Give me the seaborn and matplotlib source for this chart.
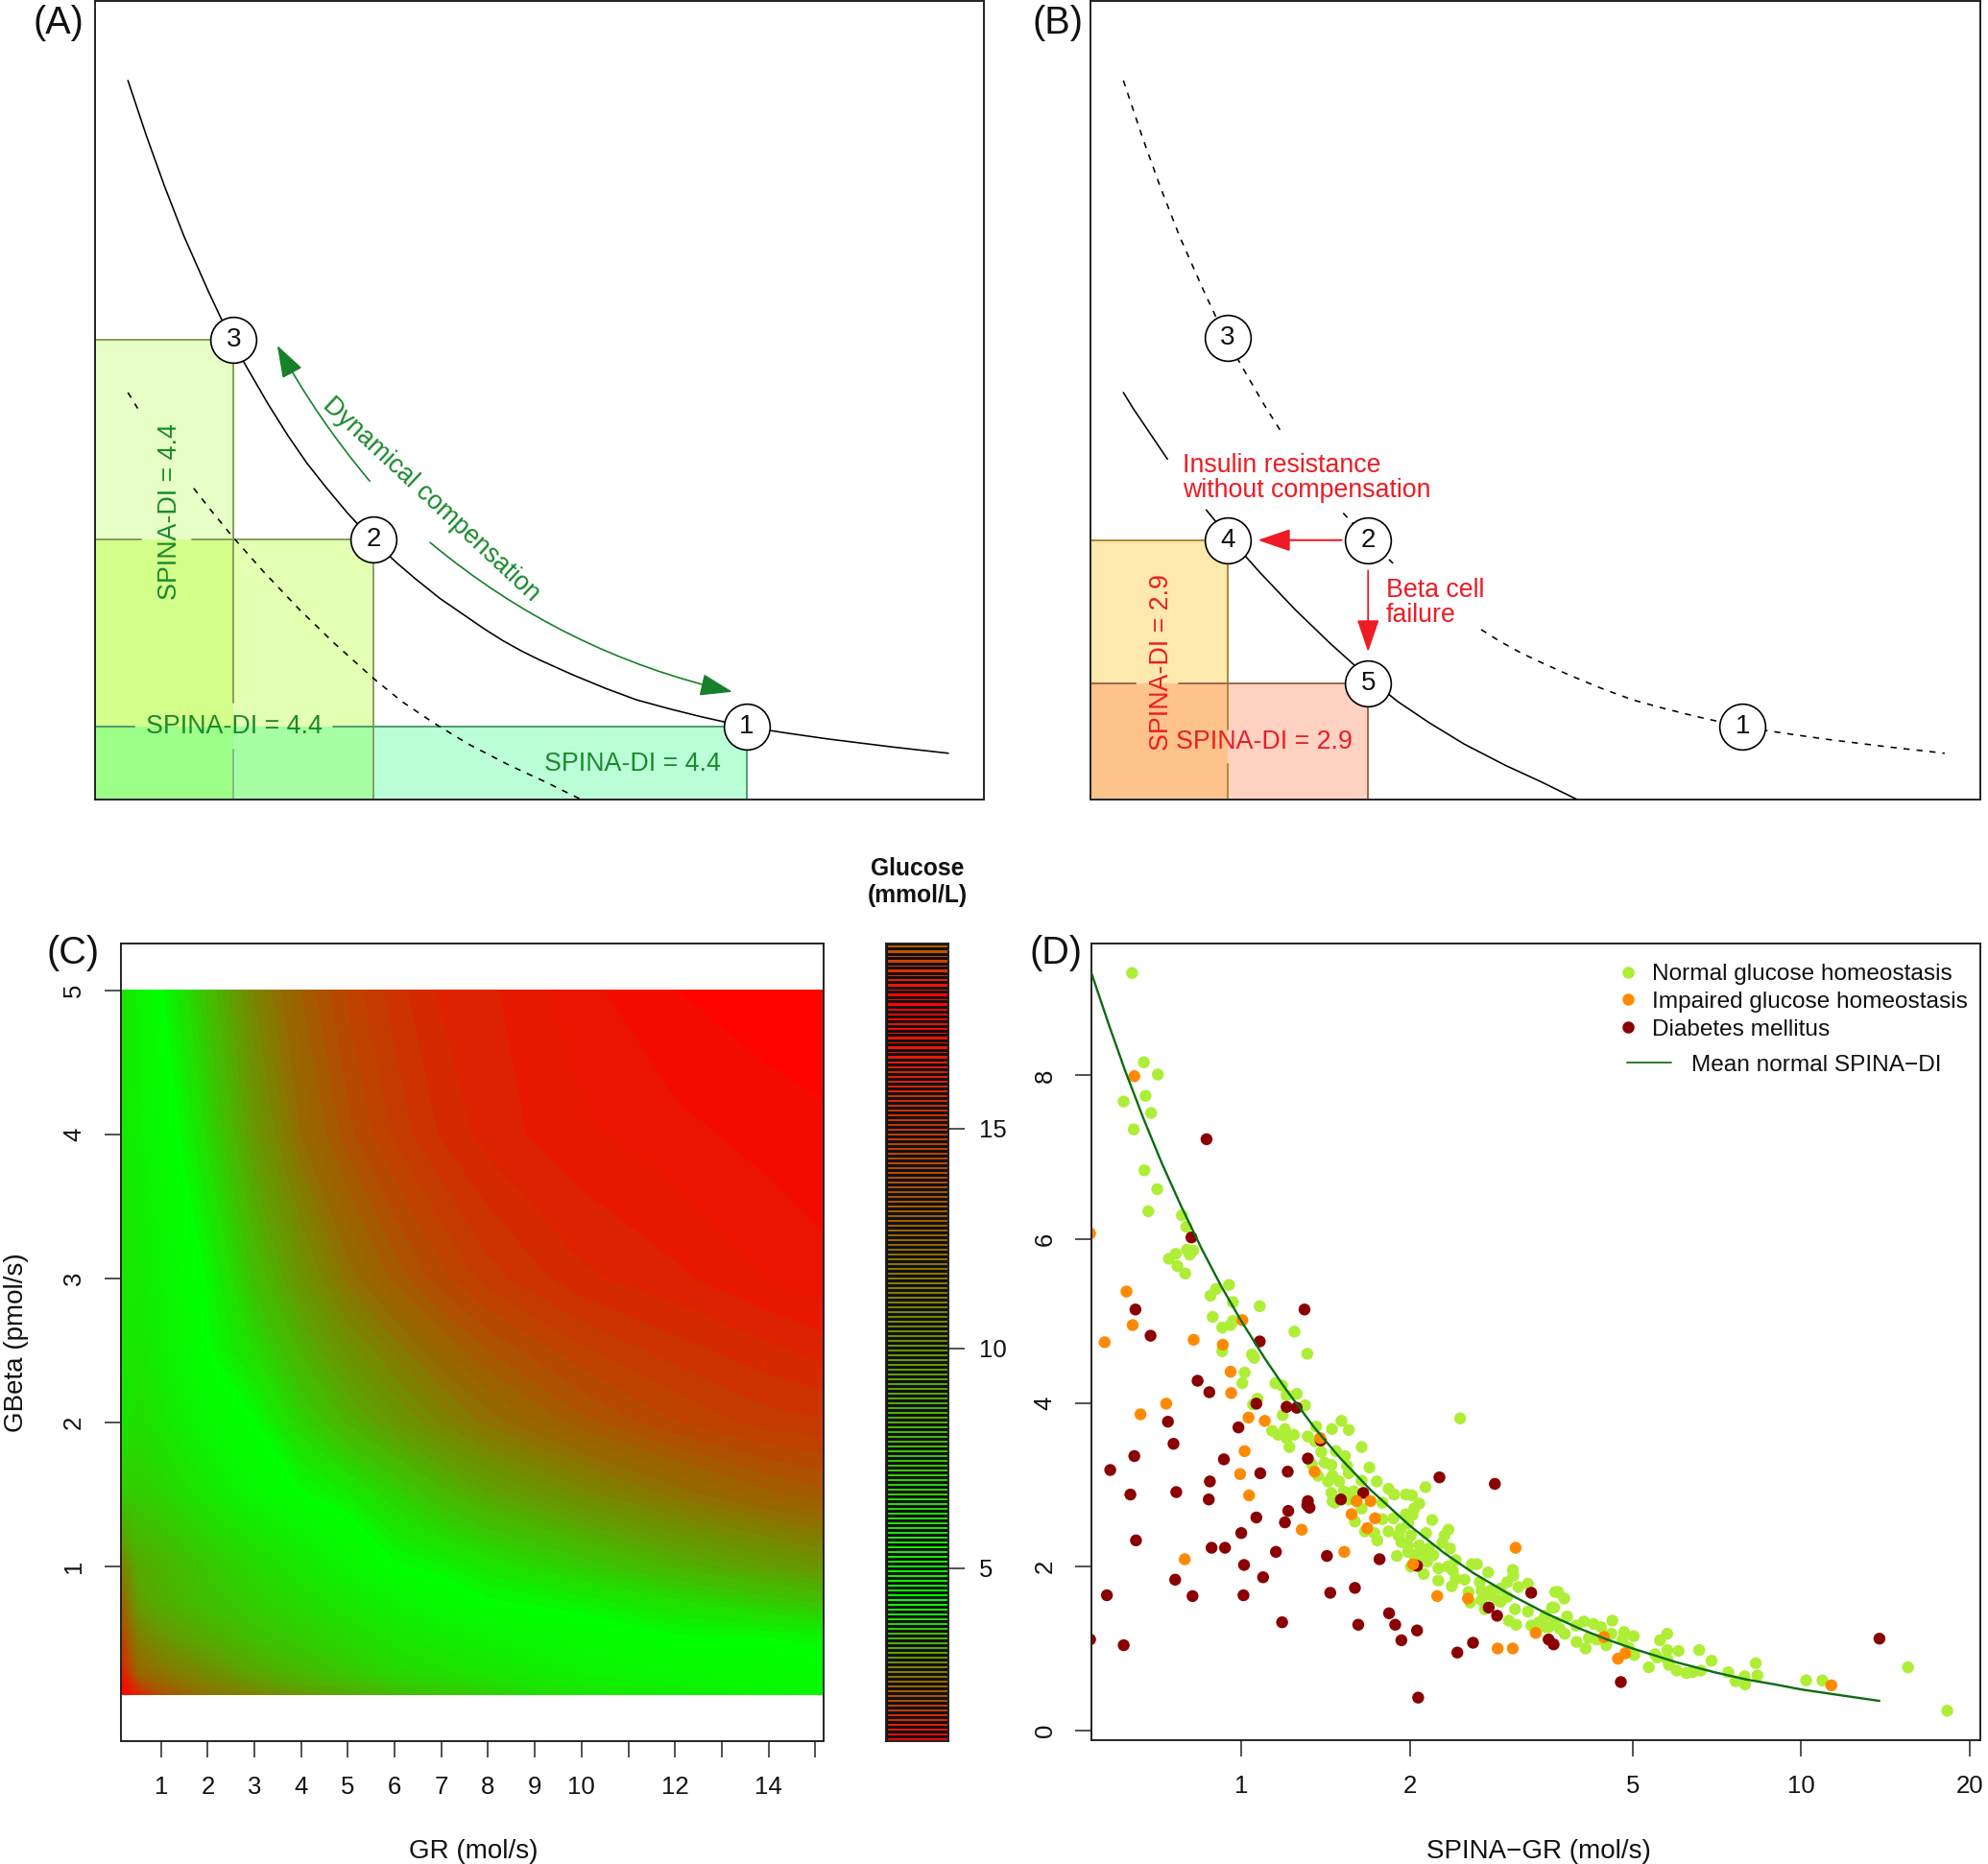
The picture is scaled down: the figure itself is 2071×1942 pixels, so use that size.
import numpy as np
import pandas as pd
import matplotlib
matplotlib.use("Agg")
import matplotlib.pyplot as plt
import seaborn as sns
from matplotlib.colors import LinearSegmentedColormap, Normalize
from matplotlib.lines import Line2D
from matplotlib.patches import Rectangle
from matplotlib.ticker import NullLocator

W, H = 2071, 1942

# ---------- Panels A / B: schematic curves (arbitrary units, axes 0-10) ----------
normal_x = [.37,.58,.78,1.0,1.27,1.43,1.56,1.70,1.95,2.17,2.38,2.6,2.84,3.13,3.40,3.6,3.88,4.39,4.59,4.8,5.0,5.38,5.75,6.09,6.45,6.81,7.33,7.8,8.24,8.96,9.6]
normal_y = [9.01,8.31,7.69,7.06,6.38,6.0,5.71,5.43,4.95,4.56,4.22,3.91,3.59,3.24,2.96,2.77,2.52,2.13,1.99,1.86,1.75,1.56,1.39,1.25,1.14,1.04,.91,.83,.76,.66,.58]
resist_x = [.37,.48,.865,1.11,1.30,1.55,1.9,2.30,2.7,3.13,3.45,3.81,4.2,4.66,5.05,5.47]
resist_y = [5.10,4.90,4.265,3.90,3.63,3.29,2.85,2.38,1.95,1.52,1.23,.96,.695,.43,.23,0.]
state_a_labels = ["1", "2", "3"]
state_a_x = [7.33, 3.13, 1.56]
state_a_y = [.91, 3.26, 5.76]
state_b_labels = ["1", "2", "3", "4", "5"]
state_b_x = [7.33, 3.12, 1.54, 1.54, 3.12]
state_b_y = [.91, 3.25, 5.78, 3.25, 1.46]

grid_gr = [.133,.5,1,1.5,2,3,4,5,6,7,8,10,12,14,15.18]
grid_gbeta = [.11,.25,.5,.75,1,1.5,2,2.5,3,4,5]
glucose_y011 = [18.0,15.95,13.62,12.52,11.84,10.88,9.78,8.82,8.0,7.31,6.77,5.67,5.26,4.85,4.71]
glucose_y025 = [16.9,12.5,11.8,11.15,10.47,9.1,8.14,7.3,6.49,6.08,5.67,4.99,4.71,4.57,4.44]
glucose_y050 = [14.58,11.15,10.05,9.37,8.82,7.73,7.04,6.36,5.67,5.26,4.99,4.57,4.3,4.27,4.2]
glucose_y075 = [12.8,9.5,8.68,8.14,7.73,6.9,6.22,5.53,4.99,4.57,4.3,4.14,3.91,3.66,3.53]
glucose_y100 = [11.15,8.82,8.41,7.86,7.31,6.36,5.53,4.85,4.3,4.17,3.98,3.66,3.33,3.08,2.95]
glucose_y150 = [7.04,7.04,6.63,6.08,5.53,4.71,4.3,4.07,3.75,3.43,3.17,2.82,2.53,2.30,2.21]
glucose_y200 = [5.67,6.08,5.67,5.12,4.71,4.3,3.75,3.33,3.01,2.75,2.53,2.21,1.98,1.82,1.79]
glucose_y250 = [5.4,5.67,5.12,4.71,4.3,3.85,3.33,2.92,2.63,2.37,2.17,1.89,1.72,1.60,1.53]
glucose_y300 = [5.4,5.4,4.99,4.5,4.24,3.5,2.95,2.53,2.24,2.01,1.82,1.6,1.50,1.37,1.31]
glucose_y400 = [5.4,5.12,4.57,4.2,3.82,3.01,2.46,2.11,1.85,1.66,1.53,1.40,1.31,1.24,1.21]
glucose_y500 = [5.67,4.99,4.3,3.91,3.5,2.75,2.27,1.95,1.72,1.56,1.50,1.31,1.18,1.11,1.08]
gr_ticks = list(range(1, 16))
gr_ticklabels = ["1","2","3","4","5","6","7","8","9","10","","12","","14",""]

# ---------- Panel D: patients, (log10 SPINA-GR, SPINA-GBeta) ----------
normal_points = [
(-.195,9.25),(-.174,8.16),(-.149,8.01),(-.210,7.68),(-.171,7.75),(-.161,7.54),(-.192,7.34),(-.173,6.84),(-.150,6.61),(-.166,6.34),
(-.106,6.29),(-.098,6.15),(-.097,5.87),(-.086,5.86),(-.092,5.81),(-.117,5.82),(-.129,5.76),(-.114,5.67),(-.100,5.58),(-.022,5.44),
(-.045,5.39),(-.055,5.31),(-.015,5.23),(.033,5.18),(-.051,5.05),(-.015,5.00),(-.019,4.95),(-.034,4.92),(.095,4.87),(-.034,4.63),
(.118,4.60),(.019,4.59),(.023,4.55),(.006,4.37),(.002,4.24),(.061,4.24),(.073,4.21),(.099,4.11),(.081,4.09),(.114,3.97),
(.029,4.05),(.021,3.98),(.074,3.85),(.055,3.66),(.078,3.68),(.066,3.61),(.094,3.61),(.081,3.57),(.086,3.46),(.134,3.71),
(.162,3.68),(.179,3.78),(.192,3.67),(.119,3.59),(.132,3.53),(.215,3.46),(.169,3.41),(.143,3.40),(.185,3.35),(.149,3.27),
(.161,3.24),(.189,3.23),(.229,3.21),(.126,3.25),(.192,3.14),(.137,3.11),(.163,3.11),(.155,3.04),(.175,3.04),(.242,3.04),
(.215,3.05),(.263,2.95),(.273,2.88),(.161,2.90),(.183,2.92),(.201,2.92),(.294,2.88),(.305,2.87),(.329,2.97),(.318,2.77),
(.163,2.80),(.167,2.78),(.192,2.82),(.215,2.71),(.252,2.78),(.309,2.71),(.294,2.64),(.306,2.63),(.272,2.59),(.252,2.58),
(.203,2.55),(.341,2.57),(.298,2.53),(.285,2.46),(.330,2.41),(.370,2.45),(.221,2.43),(.238,2.41),(.263,2.43),(.363,2.38),
(.359,2.29),(.373,2.22),(.243,2.32),(.281,2.38),(.303,2.38),(.286,2.30),(.298,2.26),(.318,2.26),(.335,2.22),(.343,2.14),
(.383,2.08),(.412,2.03),(.421,2.03),(.441,1.93),(.278,2.13),(.298,2.18),(.309,2.14),(.326,2.18),(.315,2.06),(.332,2.06),
(.369,2.00),(.352,1.98),(.378,1.95),(.303,2.00),(.326,1.91),(.352,1.83),(.383,1.85),(.399,1.84),(.376,1.76),(.426,1.81),
(.406,1.69),(.429,1.71),(.485,1.96),(.486,1.89),(.475,1.81),(.512,1.79),(.463,1.73),(.495,1.75),(.446,1.65),(.475,1.63),
(.429,1.59),(.409,1.56),(.435,1.48),(.463,1.57),(.489,1.48),(.512,1.45),(.478,1.34),(.491,1.29),(.532,1.32),(.518,1.28),
(.543,1.26),(.555,1.50),(.561,1.69),(.543,1.40),(.561,1.32),(.446,1.71),(.458,1.59),(.391,3.81),(.566,1.69),(.577,1.61),
(.559,1.50),(.582,1.39),(.538,1.34),(.549,1.26),(.560,1.32),(.578,1.18),(.569,1.24),(.598,1.28),(.612,1.33),(.629,1.30),
(.643,1.26),(.663,1.34),(.621,1.13),(.599,1.08),(.615,1.00),(.635,1.11),(.652,1.04),(.661,1.18),(.684,1.20),(.701,1.15),
(.681,1.11),(.692,1.01),(.702,.92),(.728,.77),(.739,.93),(.748,1.10),(.761,1.18),(.761,.98),(.781,.97),(.743,.89),
(.761,.87),(.764,.80),(.778,.73),(.795,.70),(.806,.71),(.821,.73),(.818,.98),(.840,.85),(.870,.71),(.883,.60),
(.899,.66),(.900,.56),(.919,.82),(.922,.67),(1.009,.61),(1.038,.61),(1.191,.77),(1.261,.24),
]
impaired_points = [
(-.191,7.99),(-.270,6.07),(-.205,5.36),(-.194,4.95),(-.244,4.74),(-.085,4.77),(.002,5.01),(-.033,4.71),(-.134,3.99),(-.180,3.86),
(.013,3.82),(.042,3.78),(-.019,4.38),(-.018,4.12),(.006,3.41),(-.002,3.13),(.014,2.87),(.141,3.57),(.131,3.16),(.206,2.80),
(.231,2.80),(.197,2.64),(.239,2.59),(.225,2.47),(.108,2.45),(-.101,2.09),(.184,2.18),(.307,2.03),(.350,1.64),(.405,1.61),
(.490,2.23),(.458,1.00),(.485,1.00),(.526,1.19),(.648,1.14),(.686,.94),(.673,.875),(1.054,.55),
]
diabetes_points = [
(-.062,7.22),(-.089,6.02),(-.189,5.14),(-.162,4.82),(.113,5.14),(.033,4.75),(-.078,4.27),(-.057,4.13),(.027,3.99),(.081,3.95),
(.099,3.94),(-.131,3.77),(-.005,3.70),(-.121,3.50),(-.191,3.35),(-.234,3.18),(-.031,3.31),(.119,3.32),(.142,3.54),(-.056,3.04),
(.034,3.14),(.083,3.16),(-.198,2.88),(-.116,2.91),(-.058,2.82),(.218,2.90),(.178,2.82),(.119,2.80),(.118,2.75),(.122,2.72),
(.084,2.68),(.027,2.60),(.078,2.54),(-.188,2.32),(.000,2.41),(-.053,2.23),(-.029,2.23),(.062,2.18),(.153,2.13),(.247,2.09),
(.005,2.02),(.039,1.87),(-.118,1.84),(-.240,1.65),(-.087,1.64),(.004,1.65),(.159,1.68),(.203,1.74),(.264,1.43),(.275,1.29),
(.209,1.29),(.073,1.32),(.286,1.10),(.314,1.22),(.386,.95),(.414,1.07),(-.270,1.11),(-.210,1.04),(.316,.40),(.354,3.09),
(.453,3.01),(.314,2.01),(.518,1.68),(.442,1.50),(.457,1.40),(.549,1.11),(.558,1.05),(.678,.59),(1.140,1.12),
]
mean_di_x = [.54,.58,.62,.67,.72,.78,.85,.92,1,1.1,1.2,1.35,1.5,1.7,2,2.3,2.6,3,3.5,4,4.5,5,6,7,8,9,10,12,13.8]
mean_di_y = [9.25,8.62,8.06,7.46,6.94,6.41,5.88,5.43,5.0,4.55,4.17,3.70,3.33,2.94,2.5,2.17,1.92,1.67,1.43,1.25,1.11,1.0,.83,.71,.62,.56,.5,.42,.36]
spina_gr_ticks = [1, 2, 5, 10, 20]
spina_gbeta_ticks = [0, 2, 4, 6, 8]
legend_names = ["Normal glucose homeostasis", "Impaired glucose homeostasis", "Diabetes mellitus"]
legend_line_name = "Mean normal SPINA\u2212DI"

# ---------- Style ----------
sns.set_theme(style="ticks")
plt.rcParams["font.family"] = ["Liberation Sans", "DejaVu Sans"]
plt.rcParams["axes.linewidth"] = 1.4
plt.rcParams["axes.edgecolor"] = "#222222"
TICK = dict(length=12.2, width=1.1, labelsize=18.5, pad=14, color="#222222", labelcolor="#111111")
FS = 20
ANN = 19.3
GREEN_T = "#1a8a2c"
GREEN_A = "#17802a"
RED = "#ed1c24"
C_GREEN = "#aeee36"
C_ORANGE = "#ff8a00"
C_RED = "#8b0000"

fig = plt.figure(figsize=(W / 100, H / 100), dpi=100, facecolor="white")


def add_ax(l, r, t, b):
    return fig.add_axes([l / W, 1 - b / H, (r - l) / W, (b - t) / H])


def place_x(ax, text, px, py, box):
    l, r, t, b = box
    ax.set_xlabel(text, fontsize=FS, va="center", ha="center", color="#111111")
    ax.xaxis.set_label_coords((px - l) / (r - l), (b - py) / (b - t))


def place_y(ax, text, px, py, box):
    l, r, t, b = box
    ax.set_ylabel(text, fontsize=FS, va="center", ha="center", rotation=90, color="#111111")
    ax.yaxis.set_label_coords((px - l) / (r - l), (b - py) / (b - t))


def tag(text, px, py):
    fig.text(px / W, 1 - py / H, text, fontsize=28.5, ha="center", va="center", color="#111111")


def gap_line(ax, xs, ys, gaps, **kw):
    xs = np.asarray(xs, float)
    ys = np.asarray(ys, float).copy()
    for lo, hi in gaps:
        ys[(xs > lo) & (xs < hi)] = np.nan
    ax.plot(xs, ys, color="black", lw=1.15, zorder=3, **kw)


def circles(ax, xs, ys, labels):
    df = pd.DataFrame({"x": xs, "y": ys})
    sns.scatterplot(data=df, x="x", y="y", ax=ax, s=1180, color="white", edgecolor="black",
                    linewidth=1.2, zorder=6, clip_on=False, legend=False)
    for x, y, t in zip(xs, ys, labels):
        ax.text(x, y, t, fontsize=FS, ha="center", va="center", zorder=7, color="#111111")


def arrow(ax, tail, tip, color, rad=0.0, lw=1.2):
    ax.annotate("", xy=tip, xytext=tail, zorder=5,
                arrowprops=dict(arrowstyle="-|>,head_length=1.05,head_width=0.36", mutation_scale=20,
                                color=color, lw=lw, shrinkA=0, shrinkB=0,
                                connectionstyle=f"arc3,rad={rad}"))


def schematic(ax):
    ax.set_xlim(0, 10)
    ax.set_ylim(0, 10)
    ax.set_xticks([])
    ax.set_yticks([])
    ax.set_xlabel("")
    ax.set_ylabel("")


# ---------- Panel A ----------
box_a = (99, 1025, 1.5, 833)
ax = add_ax(*box_a)
schematic(ax)
for i, col in zip([2, 1, 0], [(178/255, 1, 70/255), (165/255, 1, 0), (30/255, 1, 130/255)]):
    ax.add_patch(Rectangle((0, 0), state_a_x[i], state_a_y[i], fc=col, ec="none", alpha=0.3, zorder=1))
line_o = dict(lw=1.4, zorder=2)
ax.plot([0, state_a_x[2]], [state_a_y[2]] * 2, color="#84a05a", **line_o)
ax.plot([state_a_x[2]] * 2, [1.22, state_a_y[2]], color="#84a05a", **line_o)
ax.plot([state_a_x[2]] * 2, [0, .63], color="#7fbf80", **line_o)
ax.plot([0, .52], [state_a_y[1]] * 2, color="#84a05a", **line_o)
ax.plot([1.09, state_a_x[1]], [state_a_y[1]] * 2, color="#84a05a", **line_o)
ax.plot([state_a_x[1]] * 2, [0, state_a_y[1]], color="#84a05a", **line_o)
ax.plot([0, .44], [state_a_y[0]] * 2, color="#4f9d6c", **line_o)
ax.plot([2.68, state_a_x[0]], [state_a_y[0]] * 2, color="#4f9d6c", **line_o)
ax.plot([state_a_x[0]] * 2, [0, state_a_y[0]], color="#4f9d6c", **line_o)
gap_line(ax, normal_x, normal_y, [])
gap_line(ax, resist_x, resist_y, [(.48, 1.11)], linestyle=(0, (4, 4.5)))
circles(ax, state_a_x, state_a_y, state_a_labels)
arrow(ax, (3.09, 3.99), (2.05, 5.69), GREEN_A, rad=-0.05)
arrow(ax, (3.77, 3.22), (7.17, 1.35), GREEN_A, rad=0.12)
ax.text(3.78, 3.76, "Dynamical compensation", fontsize=ANN, color=GREEN_T, rotation=-43,
        rotation_mode="anchor", ha="center", va="center", zorder=5)
ax.text(1.57, .91, "SPINA-DI = 4.4", fontsize=ANN, color=GREEN_T, ha="center", va="center", zorder=5)
ax.text(6.05, .45, "SPINA-DI = 4.4", fontsize=ANN, color=GREEN_T, ha="center", va="center", zorder=5)
ax.text(.84, 3.61, "SPINA-DI = 4.4", fontsize=ANN, color=GREEN_T, rotation=90, ha="center", va="center", zorder=5)
place_x(ax, "SPINA\u2212GR", 563, 882, box_a)
place_y(ax, "SPINA\u2212GBeta", 20, 418, box_a)
tag("(A)", 61, 24)

# ---------- Panel B ----------
box_b = (1136, 2063, 1.5, 833)
ax = add_ax(*box_b)
schematic(ax)
ax.add_patch(Rectangle((0, 0), state_b_x[3], state_b_y[3], fc=(250/255, 190/255, 20/255), ec="none", alpha=0.35, zorder=1))
ax.add_patch(Rectangle((0, 0), state_b_x[4], state_b_y[4], fc=(1, 120/255, 70/255), ec="none", alpha=0.33, zorder=1))
ax.plot([0, state_b_x[3]], [state_b_y[3]] * 2, color="#ab8c35", **line_o)
ax.plot([state_b_x[3]] * 2, [.88, state_b_y[3]], color="#ab8c35", **line_o)
ax.plot([state_b_x[3]] * 2, [0, .45], color="#ab8c35", **line_o)
ax.plot([0, .51], [state_b_y[4]] * 2, color="#a0664a", **line_o)
ax.plot([.99, state_b_x[4]], [state_b_y[4]] * 2, color="#a0664a", **line_o)
ax.plot([state_b_x[4]] * 2, [0, state_b_y[4]], color="#a0664a", **line_o)
gap_line(ax, normal_x, normal_y, [(2.17, 2.84), (3.40, 4.39)], linestyle=(0, (4, 4.5)))
gap_line(ax, resist_x, resist_y, [(.865, 1.30)])
circles(ax, state_b_x, state_b_y, state_b_labels)
arrow(ax, (2.82, 3.25), (1.88, 3.25), RED, lw=1.5)
arrow(ax, (3.12, 2.87), (3.12, 1.85), RED, lw=1.3)
ax.text(1.04, 4.03, "Insulin resistance\nwithout compensation", fontsize=ANN, color=RED,
        ha="left", va="center", linespacing=1.0, zorder=5)
ax.text(3.32, 2.47, "Beta cell\nfailure", fontsize=ANN, color=RED, ha="left", va="center",
        linespacing=1.0, zorder=5)
ax.text(.80, 1.72, "SPINA-DI = 2.9", fontsize=ANN, color=RED, rotation=90, ha="center", va="center", zorder=5)
ax.text(1.95, .72, "SPINA-DI = 2.9", fontsize=ANN, color=RED, ha="center", va="center", zorder=5)
place_x(ax, "SPINA\u2212GR", 1603, 882, box_b)
tag("(B)", 1102, 24)

# ---------- Panel C ----------
g_lo, g_green, g_red, g_hi = 1.08, 4.3, 18.0, 19.2
span = g_hi - g_lo
glucose_cmap = LinearSegmentedColormap.from_list(
    "glucose",
    [(0.0, (1, 0, 0)), ((g_green - g_lo) / span, (0, 1, 0)), ((g_red - g_lo) / span, (1, 0, 0)), (1.0, (.72, .36, 0))],
    N=512)
norm = Normalize(g_lo, g_hi)
levels = np.linspace(g_lo, g_hi, 183)
glucose = np.array([glucose_y011, glucose_y025, glucose_y050, glucose_y075, glucose_y100, glucose_y150,
                    glucose_y200, glucose_y250, glucose_y300, glucose_y400, glucose_y500])
box_c = (125.5, 858, 983.5, 1813.5)
ax = add_ax(*box_c)
ax.contourf(grid_gr, grid_gbeta, glucose, levels=levels, cmap=glucose_cmap, norm=norm, zorder=1)
ax.set_xlim(.133, 15.18)
ax.set_ylim(-.212, 5.321)
ax.set_xticks(gr_ticks, gr_ticklabels)
ax.set_yticks([1, 2, 3, 4, 5], ["1", "2", "3", "4", "5"])
ax.tick_params(**TICK)
for t in ax.get_yticklabels():
    t.set_rotation(90)
    t.set_va("center")
place_x(ax, "GR (mol/s)", 493, 1929, box_c)
place_y(ax, "GBeta (pmol/s)", 17, 1399, box_c)
tag("(C)", 76, 993)

# colour key
box_k = (923, 988, 983.5, 1813.5)
cax = add_ax(*box_k)
edges = np.linspace(g_lo, g_hi, 167)
centers = (edges[:-1] + edges[1:]) / 2
cax.pcolormesh([0, 1], edges, centers[:, None], cmap=glucose_cmap, norm=norm,
               edgecolors="#111111", linewidth=0.85, antialiased=False)
cax.set_xlim(0, 1)
cax.set_ylim(g_lo, g_hi)
cax.set_xticks([])
cax.yaxis.tick_right()
cax.set_yticks([5, 10, 15], ["5", "10", "15"])
cax.tick_params(axis="y", **{**TICK, "pad": 11})
fig.text(956 / W, 1 - 919 / H, "Glucose\n(mmol/L)", fontsize=17.7, fontweight="bold", ha="center",
         va="center", linespacing=1.25, color="#111111")

# ---------- Panel D ----------
box_d = (1137, 2063, 983, 1813)
ax = add_ax(*box_d)
frames = []
for pts, name in zip([normal_points, diabetes_points, impaired_points],
                     [legend_names[0], legend_names[2], legend_names[1]]):
    a = np.array(pts)
    frames.append(pd.DataFrame({"gr": 10 ** a[:, 0], "gbeta": a[:, 1], "group": name}))
patients = pd.concat(frames, ignore_index=True)
palette = {legend_names[0]: C_GREEN, legend_names[1]: C_ORANGE, legend_names[2]: C_RED}
sns.scatterplot(data=patients, x="gr", y="gbeta", hue="group", palette=palette, ax=ax, s=80,
                linewidth=0, legend=False, zorder=2)
sns.lineplot(x=mean_di_x, y=mean_di_y, ax=ax, color="#0b6b12", lw=1.7, sort=False, estimator=None,
             zorder=3, legend=False)
ax.set_xscale("log")
ax.set_xlim(.540, 20.9)
ax.set_ylim(-.12, 9.61)
ax.set_xticks(spina_gr_ticks, [str(v) for v in spina_gr_ticks])
ax.xaxis.set_minor_locator(NullLocator())
ax.set_yticks(spina_gbeta_ticks, [str(v) for v in spina_gbeta_ticks])
ax.tick_params(**TICK)
for t in ax.get_yticklabels():
    t.set_rotation(90)
    t.set_va("center")
ax.set_ylabel("")
place_x(ax, "SPINA\u2212GR (mol/s)", 1603, 1929, box_d)
tag("(D)", 1100, 993)

handles = [Line2D([], [], marker="o", ls="", ms=9, mew=0, color=c) for c in (C_GREEN, C_ORANGE, C_RED)]
leg = ax.legend(handles, legend_names, loc="center left", bbox_to_anchor=(1684 / W, 1 - 1044 / H),
                bbox_transform=fig.transFigure, frameon=False, borderpad=0, borderaxespad=0,
                labelspacing=0.28, handlelength=1.0, handletextpad=0.5, fontsize=17.6, labelcolor="#111111")
ax.add_artist(leg)
ax.legend([Line2D([], [], color="#2a7d2a", lw=1.4)], [legend_line_name], loc="center left",
          bbox_to_anchor=(1695 / W, 1 - 1110 / H), bbox_transform=fig.transFigure, frameon=False,
          borderpad=0, borderaxespad=0, handlelength=1.875, handletextpad=0.85, fontsize=17.6,
          labelcolor="#111111")

fig.savefig("out.png", dpi=100, facecolor="white")
